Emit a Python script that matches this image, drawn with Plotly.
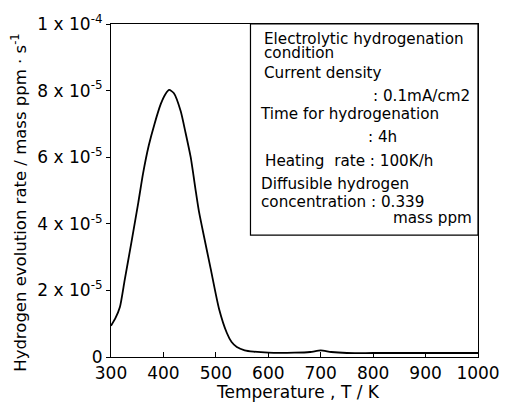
import plotly.graph_objects as go

temperature_K = [300, 308, 317, 326, 339, 352, 361, 372, 383, 395, 404, 411, 420, 433, 442,
                 452, 462, 468, 477, 490, 506, 521, 530, 540, 555, 572, 600, 650, 680,
                 700, 720, 750, 800, 900, 1000]
rate_e5 = [0.94, 1.15, 1.5, 2.3, 3.45, 4.63, 5.5, 6.35, 7.0, 7.6, 7.9, 8.02, 7.92, 7.38, 6.75,
           6.0, 4.95, 4.35, 3.65, 2.66, 1.45, 0.72, 0.45, 0.3, 0.2, 0.16, 0.13, 0.13, 0.15,
           0.2, 0.15, 0.12, 0.12, 0.12, 0.12]
rate = [v * 1e-5 for v in rate_e5]

x_ticks = [300, 400, 500, 600, 700, 800, 900, 1000]
y_ticks = [0, 2e-5, 4e-5, 6e-5, 8e-5, 1e-4]
y_ticktext = ["0", "2 x 10<sup>-5</sup>", "4 x 10<sup>-5</sup>", "6 x 10<sup>-5</sup>",
              "8 x 10<sup>-5</sup>", "1 x 10<sup>-4</sup>"]
x_title = "Temperature , T / K"
y_title = "Hydrogen evolution rate / mass ppm \u00b7 s<sup>-1</sup>"

box_lines = [
    ("Electrolytic hydrogenation", 33, "left", 264),
    ("condition", 48, "left", 264),
    ("Current density", 68, "left", 264),
    (": 0.1mA/cm2", 91, "right", 476),
    ("Time for hydrogenation", 110, "left", 260),
    (": 4h", 133, "left", 369),
    ("Heating  rate : 100K/h", 157, "left", 265),
    ("Diffusible hydrogen", 181, "left", 261),
    ("concentration : 0.339", 199, "left", 261),
    ("mass ppm", 216, "right", 478),
]

L, R, T, B = 111, 30, 18, 48
W, H = 512, 405
pw, ph = W - L - R, H - T - B

def px(x):
    return (x - L) / pw

def py(y):
    return (H - B - y) / ph

font_family = "DejaVu Sans, Verdana, sans-serif"

fig = go.Figure()
fig.add_trace(go.Scatter(x=temperature_K, y=rate, mode="lines",
                         line=dict(color="black", width=1.8, shape="spline", smoothing=0.6),
                         showlegend=False))

annotations = []
for text, y, anchor, x in box_lines:
    annotations.append(dict(text=text, xref="paper", yref="paper", x=px(x), y=py(y),
                            xanchor=anchor, yanchor="middle", showarrow=False,
                            font=dict(size=15.2, color="black", family=font_family)))
annotations.append(dict(text=x_title, xref="paper", yref="paper", x=px(300), y=py(393),
                        xanchor="center", yanchor="middle", showarrow=False,
                        font=dict(size=17, color="black", family=font_family)))
annotations.append(dict(text=y_title, xref="paper", yref="paper", x=px(18), y=py(200),
                        xanchor="center", yanchor="middle", showarrow=False, textangle=-90,
                        font=dict(size=16.5, color="black", family=font_family)))

fig.update_layout(
    width=W, height=H,
    margin=dict(l=L, r=R, t=T, b=B),
    paper_bgcolor="white", plot_bgcolor="white",
    font=dict(family=font_family, color="black"),
    xaxis=dict(range=[300, 1000], tickvals=x_ticks, ticks="inside", ticklen=5,
               tickcolor="black", showline=True, linecolor="black", linewidth=1.2,
               mirror=True, showgrid=False, zeroline=False,
               tickfont=dict(size=17)),
    yaxis=dict(range=[0, 1e-4], tickvals=y_ticks, ticktext=y_ticktext, ticks="outside",
               ticklen=4, tickcolor="black", showline=True, linecolor="black",
               linewidth=1.2, mirror=True, showgrid=False, zeroline=False,
               tickfont=dict(size=17)),
    annotations=annotations,
    shapes=[dict(type="rect", xref="paper", yref="paper", x0=px(252), x1=1,
                 y0=py(233), y1=1, line=dict(color="black", width=1.2))],
)

fig.write_html("out.html")
